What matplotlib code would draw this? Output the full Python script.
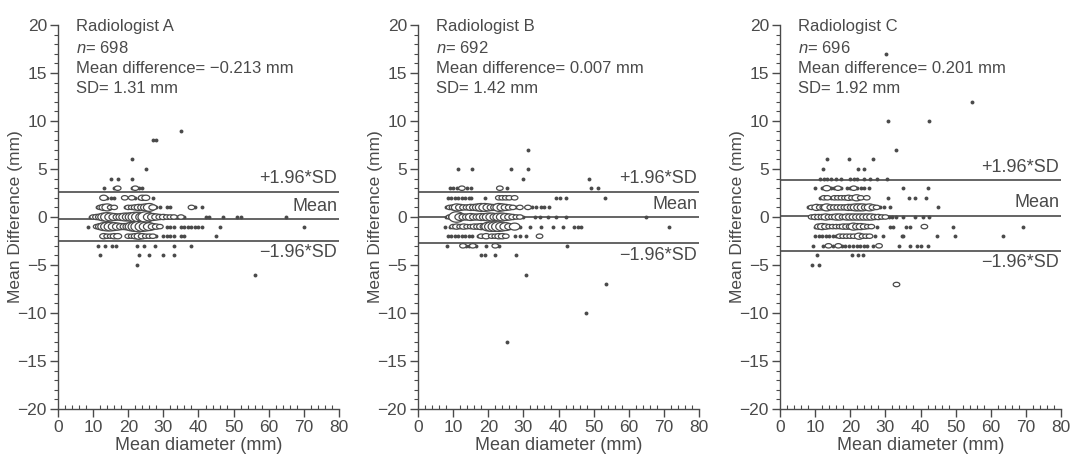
import numpy as np
import matplotlib
matplotlib.use('Agg')
import matplotlib.pyplot as plt
from matplotlib.ticker import MultipleLocator
from matplotlib.path import Path
from matplotlib.markers import MarkerStyle

plt.rcParams['font.family'] = ['Liberation Sans', 'DejaVu Sans']
plt.rcParams['mathtext.fontset'] = 'custom'
plt.rcParams['mathtext.it'] = 'Liberation Sans:italic'
plt.rcParams['mathtext.rm'] = 'Liberation Sans'

# ====================== data ======================
titles = ['Radiologist A', 'Radiologist B', 'Radiologist C']
n_obs = [698, 692, 696]
mean_diff = ['\u22120.213', '0.007', '0.201']
sd_text = ['1.31', '1.42', '1.92']
# limit lines: (mean, +1.96*SD, -1.96*SD) as drawn
mean_line = [-0.25, 0.0, 0.15]
upper_line = [2.65, 2.65, 3.85]
lower_line = [-2.45, -2.75, -3.55]

# each row: difference level, mean diameters, counts at those diameters
rows_a = [
    (9, [35], [1]),
    (8, [27, 28], [1, 1]),
    (6, [21], [1]),
    (5, [25], [1]),
    (4, [15, 17, 21], [1, 1, 1]),
    (3, [13, 16, 17, 21, 22, 23, 24], [1, 1, 2, 1, 2, 1, 1]),
    (2, [13, 14, 15, 16, 19, 21, 22, 23, 24, 25, 27], [3, 1, 1, 1, 2, 2, 1, 1, 3, 3, 1]),
    (1, [11, 12, 13, 14, 15, 16, 19, 20, 21, 22, 23, 24, 25, 26, 27, 28, 29, 31, 32, 38, 39, 41],
        [1, 2, 4, 5, 2, 2, 1, 2, 2, 3, 4, 4, 5, 6, 3, 1, 1, 1, 1, 2, 1, 1]),
    (0, [9, 10, 11, 12, 13, 14, 15, 16, 17, 18, 19, 20, 21, 22, 23, 24, 25, 26, 27, 28, 29, 30,
         31, 32, 33, 34, 35, 36, 42, 43, 47, 51, 52, 65],
        [1, 2, 3, 4, 6, 7, 6, 5, 4, 5, 6, 6, 7, 8, 8, 7, 9, 6, 5, 4, 3, 3,
         2, 2, 2, 1, 2, 1, 1, 1, 1, 1, 1, 1]),
    (-1, [8.5, 11, 12, 13, 14, 15, 16, 17, 18, 19, 20, 21, 22, 23, 24, 25, 26, 27, 28, 29,
          31, 32, 33, 35, 36, 37, 38, 39, 40, 41, 46, 70],
         [1, 2, 4, 6, 7, 7, 6, 5, 4, 4, 5, 7, 8, 9, 8, 7, 6, 4, 3, 2,
          1, 1, 1, 1, 1, 1, 1, 1, 1, 1, 1, 1]),
    (-2, [13, 14, 15, 16, 17, 20, 21, 22, 23, 24, 25, 26, 27, 28, 30, 31, 32, 33, 35, 36, 45],
         [3, 2, 2, 3, 3, 2, 2, 3, 4, 3, 2, 2, 2, 1, 1, 1, 1, 1, 1, 1, 1]),
    (-3, [11.5, 13.5, 15.5, 16.5, 22.5, 24.5, 27.5, 33, 38], [1, 1, 1, 1, 1, 1, 1, 1, 1]),
    (-4, [12, 23, 26, 30, 33], [1, 1, 1, 1, 1]),
    (-5, [22.5], [1]),
    (-6, [56], [1]),
]

rows_b = [
    (7, [31.3], [1]),
    (5, [11.4, 15.5, 26.5, 31.3], [1, 1, 1, 1]),
    (4, [29.9, 48.8], [1, 1]),
    (3, [9, 10, 11, 12.5, 14, 15, 23.3, 25.3, 49.3, 51.2], [1, 1, 1, 2, 1, 1, 2, 1, 1, 1]),
    (2, [8.5, 9.5, 10.5, 11.5, 12.5, 13.5, 14.5, 15.2, 19, 23, 24, 25, 26, 27.5, 39.3, 40.3, 42.2, 53.1],
        [1, 1, 1, 1, 1, 1, 1, 1, 1, 2, 2, 2, 2, 2, 1, 1, 1, 1]),
    (1, [8, 9, 10, 11, 12, 13, 14, 15, 16, 17, 18, 19, 20, 21, 22, 23, 24, 25, 26, 27, 28, 29,
         31.3, 32.5, 33.6, 35, 36, 37.4],
        [1, 2, 3, 5, 4, 3, 3, 4, 4, 5, 6, 6, 5, 4, 4, 6, 5, 4, 3, 2, 1, 2,
         2, 1, 1, 1, 1, 1]),
    (0, [8, 9, 10, 11, 12, 13, 14, 15, 16, 17, 18, 19, 20, 21, 22, 23, 24, 25, 26, 27, 28, 29, 30,
         33.2, 34.6, 37, 39.3, 42.2, 65],
        [1, 2, 4, 9, 5, 4, 4, 5, 4, 4, 5, 5, 6, 6, 5, 6, 6, 5, 4, 3, 2, 2, 1,
         1, 1, 1, 1, 1, 1]),
    (-1, [7.6, 9, 10, 11, 12, 13, 14, 15, 16, 17, 18, 19, 20, 21, 22, 23, 24, 25, 26, 27.5, 29,
          32, 35, 38.4, 41.4, 44.5, 45.5, 46.4, 71.6],
         [1, 1, 2, 3, 2, 3, 2, 2, 3, 3, 4, 4, 7, 8, 8, 8, 7, 6, 4, 5, 1,
          1, 1, 1, 1, 1, 1, 1, 1]),
    (-2, [8.5, 9.5, 10.5, 11.5, 12.5, 13.5, 14.5, 15.5, 17, 18, 19.4, 21, 22, 23, 24, 25, 27.5, 29, 30.8, 34.6],
         [1, 1, 1, 1, 1, 1, 1, 1, 1, 2, 3, 2, 2, 3, 3, 2, 1, 1, 1, 2]),
    (-3, [8.2, 12.8, 13.8, 14.6, 15.6, 16.6, 19.4, 22, 23, 42.4], [1, 2, 1, 1, 2, 1, 1, 2, 1, 1]),
    (-4, [18, 19, 21.8, 27.8], [1, 1, 1, 1]),
    (-6, [30.8], [1]),
    (-7, [53.4], [1]),
    (-10, [47.9], [1]),
    (-13, [25.4], [1]),
]

rows_c = [
    (17, [30.1], [1]),
    (12, [54.6], [1]),
    (10, [30.7, 42.5], [1, 1]),
    (7, [33], [1]),
    (6, [13.5, 19.7, 26.6], [1, 1, 1]),
    (5, [12.2, 22.1, 24], [1, 1, 1]),
    (4, [11.4, 12.5, 13.5, 14.5, 16, 17.5, 20, 21, 22, 24, 25.5, 27.5, 30.4], [1, 1, 1, 1, 1, 1, 1, 1, 1, 1, 1, 1, 1]),
    (3, [10, 12, 13.3, 14.5, 15.5, 16.5, 17.5, 19, 20, 21, 22, 23, 24, 25.2, 35.1, 42],
        [1, 1, 3, 1, 1, 2, 1, 1, 1, 2, 1, 1, 1, 1, 1, 1]),
    (2, [11.4, 12.5, 13.5, 14.5, 15.5, 16.5, 17.5, 18.5, 19.5, 20.5, 21.8, 23, 24.7, 30.7, 36.6, 38.5, 41.6],
        [1, 2, 2, 1, 2, 2, 2, 2, 3, 2, 4, 2, 2, 1, 1, 1, 1]),
    (1, [8, 9, 10.4, 11.5, 12.5, 13.3, 14.5, 15.5, 16.5, 17.5, 18.5, 19.5, 20.5, 21.5, 22.5, 23.5,
         24.5, 25.5, 26.5, 27.5, 28.5, 29.5, 31.3, 45],
        [1, 2, 4, 3, 3, 5, 3, 3, 3, 3, 3, 4, 4, 5, 5, 5, 4, 5, 3, 2, 1, 1, 1, 1]),
    (0, [9, 10, 11, 12, 13, 14, 15, 16, 17, 18, 19, 20, 21, 22, 23, 24, 25, 26, 27, 28, 29, 30,
         31, 32, 33, 35, 38.5, 40.8, 42.5],
        [2, 3, 3, 3, 4, 3, 3, 4, 4, 3, 4, 4, 4, 4, 4, 4, 4, 4, 3, 3, 2, 2,
         1, 1, 1, 1, 1, 1, 1]),
    (-1, [10, 11, 12, 13, 14, 15, 16, 17, 18, 19, 20, 20.9, 22, 23, 24, 25, 26, 27.5,
          31.3, 32.3, 36, 37, 41.1, 49.2, 69.1],
         [1, 3, 4, 3, 2, 2, 2, 2, 3, 3, 3, 5, 4, 4, 3, 2, 2, 1,
          1, 1, 1, 1, 2, 1, 1]),
    (-2, [10, 11, 12, 13, 14, 15, 16, 17, 18, 19, 20, 21, 22.5, 23.5, 24.5, 25.5, 27, 29.4,
          34.7, 35.1, 44.6, 49.7, 63.6],
         [1, 1, 1, 1, 1, 1, 1, 2, 2, 2, 2, 2, 4, 2, 2, 2, 1, 1,
          1, 1, 1, 1, 1]),
    (-3, [9.3, 12.3, 13.8, 15.2, 16.6, 17.6, 18.6, 19.6, 20.9, 21.8, 22.8, 23.8, 24.8, 26.6, 28.2,
          34, 37, 39.1, 40, 42],
         [1, 1, 2, 1, 2, 1, 1, 1, 1, 1, 1, 1, 1, 1, 2, 1, 1, 1, 1, 1]),
    (-4, [10.4, 20.6, 22.3, 23.6], [1, 1, 1, 1]),
    (-5, [9, 11.1], [1, 1]),
    (-7, [33], [2]),
]

all_rows = [rows_a, rows_b, rows_c]

# ====================== style ======================
ink = '#4a4a4a'
fs = 12
fs_tick = 12.5
fig = plt.figure(figsize=(10.7, 4.54), dpi=100)
lefts = [58 / 1070, 418 / 1070, 780 / 1070]
ax_w = 281 / 1070
ax_b = 1 - 409 / 454
ax_h = 384 / 454

# horizontally stretched open ellipse used for the overlapping cases
t = np.linspace(0, 2 * np.pi, 40)
ellipse = MarkerStyle(Path(np.column_stack([1.5 * np.cos(t), np.sin(t)]), closed=True))


def marker_pt(c):
    # marker width in points, growing with the number of overlapping cases
    return (4.0 + 1.3 * c) * 0.72


for k in range(3):
    ax = fig.add_axes([lefts[k], ax_b, ax_w, ax_h])
    for y, xs, cs in all_rows[k]:
        xs = np.array(xs, dtype=float)
        cs = np.array(cs)
        single = cs == 1
        ax.scatter(xs[single], np.full(single.sum(), y), s=2.8 ** 2, color=ink,
                   linewidths=0, zorder=3)
        multi = ~single
        if multi.any():
            sizes = np.array([marker_pt(c) for c in cs[multi]]) ** 2
            ax.scatter(xs[multi], np.full(multi.sum(), y), s=sizes, marker=ellipse,
                       facecolor='white', edgecolor=ink, linewidths=0.9, zorder=4)

    for yl in (upper_line[k], mean_line[k], lower_line[k]):
        ax.axhline(yl, color=ink, linewidth=1.2, zorder=2)

    ax.text(79.5, upper_line[k] + 0.45, '+1.96*SD', ha='right', va='bottom', fontsize=13, color=ink)
    ax.text(79.5, mean_line[k] + 0.45, 'Mean', ha='right', va='bottom', fontsize=13, color=ink)
    ax.text(79.5, lower_line[k] - 0.35, '\u22121.96*SD', ha='right', va='top', fontsize=13, color=ink)

    info = [titles[k], '$n$= %d' % n_obs[k],
            'Mean difference= %s mm' % mean_diff[k], 'SD= %s mm' % sd_text[k]]
    for i, line in enumerate(info):
        ax.text(5.0, 19.8 - 2.15 * i, line, ha='left', va='center', fontsize=fs, color=ink)

    ax.set_xlim(0, 80)
    ax.set_ylim(-20, 20)
    ax.xaxis.set_major_locator(MultipleLocator(10))
    ax.xaxis.set_minor_locator(MultipleLocator(2))
    ax.yaxis.set_major_locator(MultipleLocator(5))
    ax.yaxis.set_minor_locator(MultipleLocator(1))
    ax.spines['top'].set_visible(False)
    ax.spines['right'].set_visible(False)
    for sp in ('left', 'bottom'):
        ax.spines[sp].set_color(ink)
        ax.spines[sp].set_linewidth(1.0)
    ax.tick_params(axis='both', which='major', length=6, width=1.0, color=ink,
                   labelcolor=ink, labelsize=fs_tick, pad=2)
    ax.tick_params(axis='x', which='minor', direction='in', length=3, width=0.8, color=ink)
    ax.tick_params(axis='y', which='minor', direction='out', length=3, width=0.8, color=ink)
    ax.set_xlabel('Mean diameter (mm)', fontsize=13, color=ink, labelpad=1)
    ax.set_ylabel('Mean Difference (mm)', fontsize=12.5, color=ink)
    ax.yaxis.set_label_coords(-0.125, 0.5)
    ax.patch.set_alpha(0)

fig.savefig('out.png', dpi=100)
